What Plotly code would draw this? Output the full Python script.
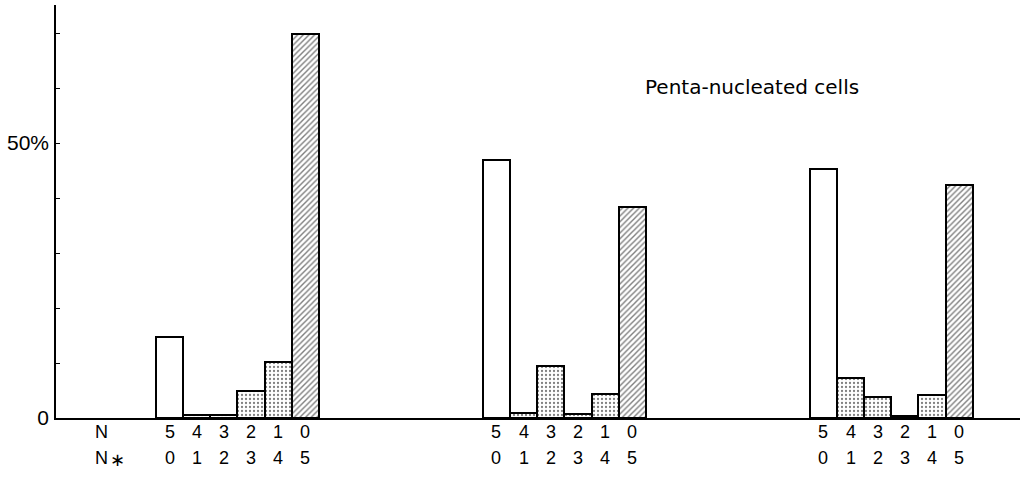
import plotly.graph_objects as go

# ---- data ----
n_labels = ["5", "4", "3", "2", "1", "0"]
nstar_labels = ["0", "1", "2", "3", "4", "5"]
group1 = [14.7, 0.5, 0.5, 4.9, 10.2, 69.8]
group2 = [47.0, 0.9, 9.4, 0.7, 4.4, 38.4]
group3 = [45.3, 7.2, 3.8, 0.3, 4.2, 42.4]
groups = [group1, group2, group3]
ytick_vals = [0, 10, 20, 30, 40, 50, 60, 70]
ytick_text = ["0", "", "", "", "", "50%", "", ""]
title_text = "Penta-nucleated cells"

# ---- layout constants ----
first_center = 4.18
group_step = 12.04
pattern_shapes = ["", ".", ".", ".", ".", "/"]
FONT = "Liberation Sans"

fig = go.Figure()
xs, ys, shapes = [], [], []
for g, vals in enumerate(groups):
    for i, v in enumerate(vals):
        xs.append(first_center + g * group_step + i)
        ys.append(v)
        shapes.append(pattern_shapes[i])

fig.add_trace(go.Bar(
    x=xs, y=ys, width=1.0,
    marker=dict(
        color="white",
        line=dict(color="black", width=2),
        pattern=dict(shape=shapes, fgcolor="black", bgcolor="white",
                     size=[4 for s in shapes],
                     solidity=[0.25 if s == "." else 0.35 for s in shapes]),
    ),
    showlegend=False, hoverinfo="skip",
))

annotations = []
for g in range(len(groups)):
    for i in range(len(n_labels)):
        x = first_center + g * group_step + i
        annotations.append(dict(x=x, y=0, xref="x", yref="paper", text=n_labels[i],
                                showarrow=False, yanchor="middle", yshift=-14,
                                font=dict(family=FONT, size=18, color="black")))
        annotations.append(dict(x=x, y=0, xref="x", yref="paper", text=nstar_labels[i],
                                showarrow=False, yanchor="middle", yshift=-40,
                                font=dict(family=FONT, size=18, color="black")))
annotations.append(dict(x=1.68, y=0, xref="x", yref="paper", text="N",
                        showarrow=False, yanchor="middle", yshift=-14,
                        font=dict(family=FONT, size=18, color="black")))
annotations.append(dict(x=1.6, y=0, xref="x", yref="paper", text="N",
                        showarrow=False, yanchor="middle", xanchor="center", yshift=-40, xshift=2,
                        font=dict(family=FONT, size=18, color="black")))
annotations.append(dict(x=1.6, y=0, xref="x", yref="paper", text="∗",
                        showarrow=False, yanchor="middle", xanchor="center", yshift=-41, xshift=18,
                        font=dict(family="DejaVu Sans", size=18, color="black")))
annotations.append(dict(x=0.7215, y=0.801, xref="paper", yref="paper", text=title_text,
                        showarrow=False, xanchor="center", yanchor="middle",
                        font=dict(family="DejaVu Sans", size=20, color="black")))

fig.update_layout(
    width=1029, height=485,
    margin=dict(l=56, r=9, t=5, b=67),
    paper_bgcolor="white", plot_bgcolor="white",
    annotations=annotations,
    bargap=0,
    xaxis=dict(range=[0, 35.5], showgrid=False, zeroline=False,
               showline=True, linecolor="black", linewidth=1.5,
               showticklabels=False, ticks=""),
    yaxis=dict(range=[0, 75.1], showgrid=False, zeroline=False,
               showline=True, linecolor="black", linewidth=1.5,
               tickvals=ytick_vals, ticktext=ytick_text,
               ticks="inside", ticklen=4, tickcolor="black", tickwidth=1,
               ticklabelstandoff=1,
               tickfont=dict(family=FONT, size=21, color="black")),
)

fig.write_html("out.html")
